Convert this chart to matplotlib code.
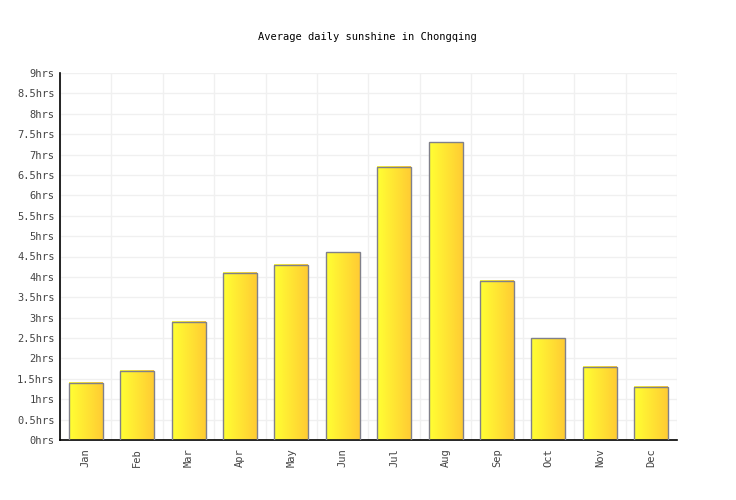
import numpy as np
import matplotlib.pyplot as plt
from matplotlib.colors import LinearSegmentedColormap
from matplotlib.patches import Rectangle

months = ['Jan', 'Feb', 'Mar', 'Apr', 'May', 'Jun',
          'Jul', 'Aug', 'Sep', 'Oct', 'Nov', 'Dec']
sunshine = [1.4, 1.7, 2.9, 4.1, 4.3, 4.6, 6.7, 7.3, 3.9, 2.5, 1.8, 1.3]
yticks = np.arange(0, 9.01, 0.5)
ylabels = ['%ghrs' % t for t in yticks]

plt.rcParams['font.family'] = ['DejaVu Sans Mono']

fig = plt.figure(figsize=(7.36, 5.0), dpi=100)
ax = fig.add_axes([60 / 736, 1 - 440 / 500, 617 / 736, 367 / 500])

x = np.arange(len(months))
width = 0.66
cmap = LinearSegmentedColormap.from_list('sun', ['#ffff33', '#ffcc33'])
grad = np.linspace(0, 1, 64).reshape(1, -1)

# gradient bars with grey outline
for xi, v in zip(x, sunshine):
    ax.imshow(grad, cmap=cmap, aspect='auto', zorder=2,
              extent=(xi - width / 2, xi + width / 2, 0, v))
    ax.add_patch(Rectangle((xi - width / 2, 0), width, v, fill=False,
                           edgecolor='#80808a', linewidth=1.0, zorder=3))

ax.set_xlim(-0.5, len(months) - 0.5)
ax.set_ylim(0, 9)
ax.set_xticks(x)
ax.set_xticklabels(months, rotation=90, fontsize=7.5, color='#444444')
ax.set_xticks(np.arange(-0.5, len(months), 1), minor=True)
ax.set_yticks(yticks)
ax.set_yticklabels(ylabels, fontsize=7.5, color='#444444')
ax.tick_params(axis='x', which='both', length=0, pad=6)
ax.tick_params(axis='y', length=0, pad=4)
ax.grid(True, which='minor', axis='x', color='#f0f0f0', linewidth=1, zorder=0)
ax.grid(True, which='major', axis='y', color='#f0f0f0', linewidth=1, zorder=0)
ax.set_axisbelow(True)

for side in ['top', 'right']:
    ax.spines[side].set_visible(False)
ax.spines['left'].set_linewidth(1.2)
ax.spines['bottom'].set_linewidth(1.2)

fig.text(367 / 736, 1 - 37 / 500, 'Average daily sunshine in Chongqing',
         ha='center', va='center', fontsize=7.5, color='#000000')

fig.savefig('out.png', dpi=100)
